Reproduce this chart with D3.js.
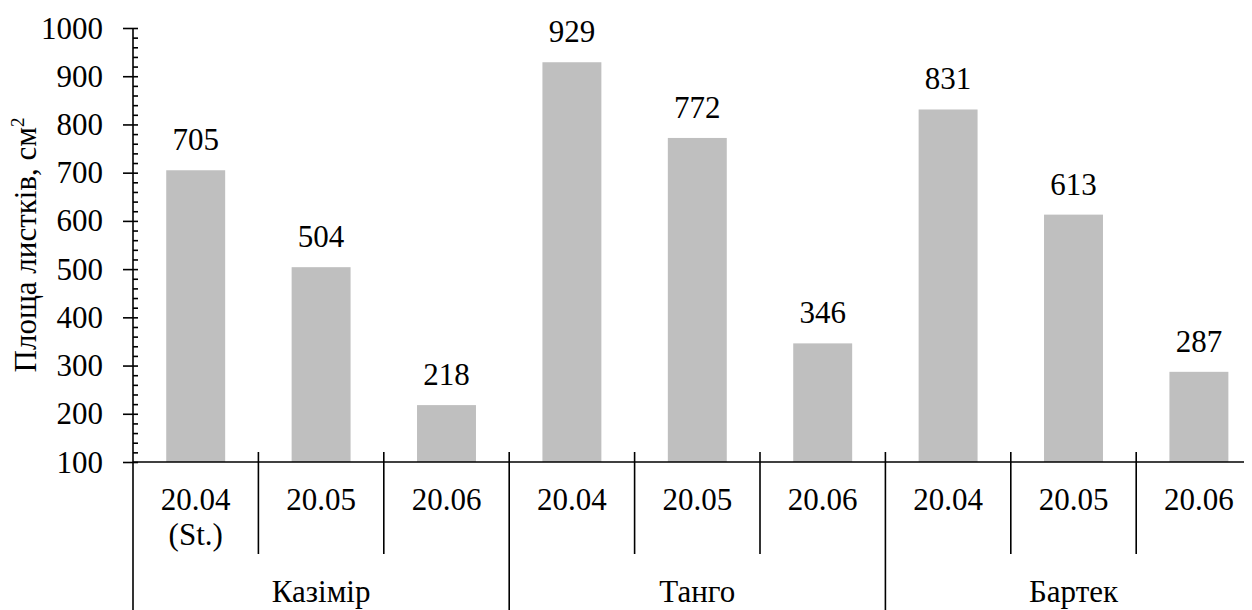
<!DOCTYPE html>
<html><head><meta charset="utf-8">
<script src="https://cdn.jsdelivr.net/npm/d3@7"></script>
</head>
<body><svg id="c" width="1252" height="610" viewBox="8 8 1252 610"></svg>
<script>
const groups = ["Казімір", "Танго", "Бартек"];
const dates = ["20.04", "20.05", "20.06"];
const firstDateNote = "(St.)";
const values = [705, 504, 218, 929, 772, 346, 831, 613, 287];
const yTicks = [100, 200, 300, 400, 500, 600, 700, 800, 900, 1000];
const yLabel = "Площа листків, см";

const categories = [];
groups.forEach((g, gi) => dates.forEach((d, di) => categories.push({id: gi + "-" + di, group: g, date: d})));

const svg = d3.select("#c");
const left = 133, bandW = 125.4;
const x = d3.scaleBand().domain(categories.map(c => c.id)).range([left, left + bandW * categories.length]).paddingInner(0).paddingOuter(0);
const y = d3.scaleLinear().domain([100, 1000]).range([462, 28]);
const fs = 31;
const SW = 1.6;

// text helper: anchor computed manually from the measured width
function label(str, cx, cy, anchor, size) {
  const t = svg.append("text").attr("font-size", size || fs).style("font-family", "Liberation Serif").text(str);
  const w = t.node().getComputedTextLength();
  const dx = anchor === "middle" ? -w / 2 : anchor === "end" ? -w : 0;
  t.attr("x", cx + dx).attr("y", cy);
  return t;
}

// bars
const bw = x.bandwidth() * 0.47;
svg.append("g").selectAll("rect").data(categories).join("rect")
  .attr("x", (c) => x(c.id) + (x.bandwidth() - bw) / 2)
  .attr("width", bw)
  .attr("y", (c, i) => y(values[i]))
  .attr("height", (c, i) => y(100) - y(values[i]))
  .attr("fill", "#bfbfbf");

// value labels
categories.forEach((c, i) => label(String(values[i]), x(c.id) + x.bandwidth() / 2, y(values[i]) - 20, "middle"));

// y axis ticks (labels drawn by helper)
const yAxis = d3.axisLeft(y).tickValues(yTicks).tickSize(10).tickFormat("");
const gy = svg.append("g").attr("transform", `translate(${left},0)`).call(yAxis);
gy.select(".domain").remove();
gy.selectAll(".tick line").attr("stroke", "#000").attr("stroke-width", SW);
yTicks.forEach(v => label(String(v), left - 30, y(v) + 10.5, "end"));
const minor = d3.range(100, 1001, 20);
const gm = svg.append("g").attr("transform", `translate(${left},0)`)
  .call(d3.axisRight(y).tickValues(minor).tickSize(5).tickFormat(""));
gm.select(".domain").remove();
gm.selectAll(".tick line").attr("stroke", "#000").attr("stroke-width", SW);

// axis lines
svg.append("line").attr("x1", left).attr("x2", left).attr("y1", y(1000)).attr("y2", 610).attr("stroke", "#000").attr("stroke-width", SW);
svg.append("line").attr("x1", left).attr("x2", left + bandW * categories.length).attr("y1", y(100)).attr("y2", y(100)).attr("stroke", "#000").attr("stroke-width", SW);

// category separators
categories.forEach((c, i) => {
  if (i === 0) return;
  const xx = x(c.id);
  const isGroup = i % dates.length === 0;
  svg.append("line").attr("x1", xx).attr("x2", xx).attr("y1", y(100) - 10).attr("y2", isGroup ? 610 : 554)
    .attr("stroke", "#000").attr("stroke-width", SW);
});

// category labels
categories.forEach(c => label(c.date, x(c.id) + x.bandwidth() / 2, 510, "middle"));
label(firstDateNote, x(categories[0].id) + x.bandwidth() / 2, 545, "middle");

// group labels
groups.forEach((g, gi) => {
  const x0 = x(categories[gi * dates.length].id);
  const x1 = x(categories[gi * dates.length + dates.length - 1].id) + x.bandwidth();
  label(g, (x0 + x1) / 2, 602, "middle");
});

// y label (rotated)
const yl = svg.append("text").attr("font-size", fs).style("font-family", "Liberation Serif");
yl.append("tspan").text(yLabel);
yl.append("tspan").attr("dy", -12).attr("font-size", 19).text("2");
const yw = yl.node().getComputedTextLength();
yl.attr("x", -yw / 2).attr("transform", `translate(36,${(y(100) + y(1000)) / 2}) rotate(-90)`);
</script></body></html>
